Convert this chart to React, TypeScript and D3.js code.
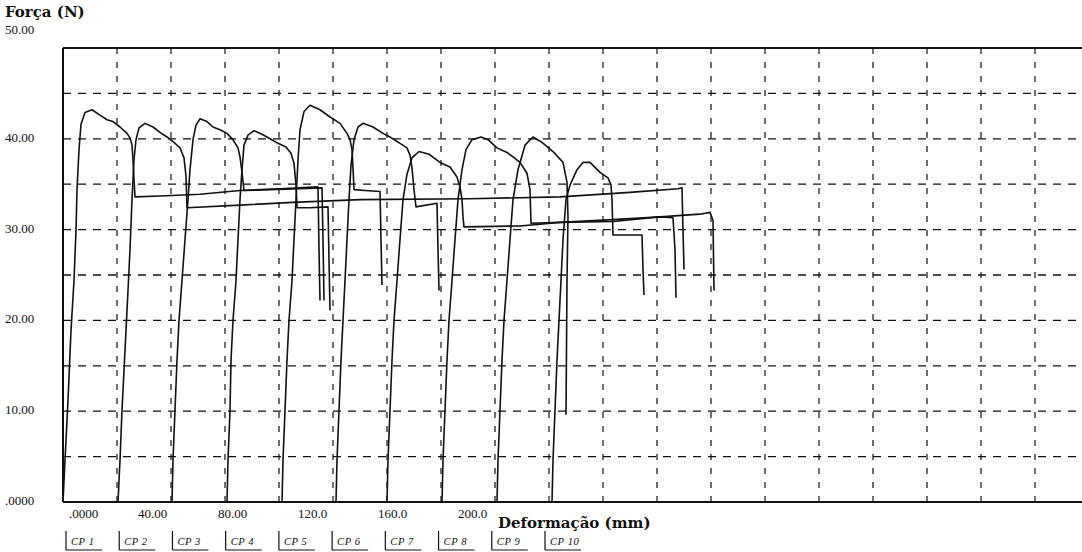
import * as d3 from 'd3';

// deformação (mm), força (N)
const cp1: [number, number][] = [[0,0],[1,4.6],[2.5,11.2],[4,18.9],[5.5,24.4],[6.5,29.9],[7,34.4],[8,38.8],[9,41.6],[11,42.9],[14.5,43.2],[18.5,42.6],[22,42.1],[25,41.9],[28.5,41.3],[32,40.6],[33.5,40.1],[34.5,39.3],[35,37.7],[35.5,35.5],[36,33.6],[48.5,33.7],[68.5,33.9],[88.5,34.3],[108.5,34.5],[127.5,34.7],[128,27.8],[128.5,22.2]];
const cp2: [number, number][] = [[27.5,0],[28.5,4.6],[29.5,10.1],[30.5,14.5],[31.5,18.9],[32.5,23.3],[33.5,27.8],[34.5,33.3],[35.5,37.7],[36.5,39.9],[38,41.2],[41,41.7],[45,41.3],[48.5,40.7],[52,40.2],[55,39.7],[58.5,39.0],[60.5,37.9],[61.5,35.9],[62,32.4],[88.5,32.7],[115,33.0],[148.5,33.3],[203.5,33.4],[248.5,33.6],[283.5,34.1],[307.5,34.5],[309.5,34.6],[310,29.9],[310.5,25.6]];
const cp3: [number, number][] = [[54.5,0],[55,4.6],[56,10.1],[57,15.6],[58,20.0],[59.5,24.4],[61,28.9],[62.5,33.3],[63.5,36.6],[65,39.9],[66.5,41.5],[68.5,42.2],[72,41.9],[75,41.3],[78.5,41.0],[82,40.6],[85,39.9],[87.5,39.0],[88.5,38.0],[89.5,36.3],[90.5,34.3],[103.5,34.4],[118.5,34.5],[129.5,34.6],[130,28.9],[130.5,22.2]];
const cp4: [number, number][] = [[82,0],[82.5,4.6],[83.5,10.1],[84,15.6],[85,20.0],[86.5,24.4],[87.5,28.9],[88.5,33.3],[89.5,36.6],[90.5,39.3],[92.5,40.4],[95.5,40.9],[99.5,40.5],[103.5,40.0],[107.5,39.5],[111.5,39.1],[114,38.4],[115.5,37.3],[116.5,34.9],[117,32.4],[123.5,32.4],[132.5,32.5],[133,26.7],[133.5,21.1]];
const cp5: [number, number][] = [[109.5,0],[110,4.6],[111,10.1],[112,15.6],[113,20.0],[114.5,24.4],[115.5,28.9],[116.5,33.3],[117.5,37.7],[118.5,41.0],[120.5,43.0],[123.5,43.7],[128.5,43.2],[133.5,42.4],[138.5,41.7],[142,40.6],[143.5,39.9],[144.5,38.8],[145,36.8],[145.5,34.4],[151,34.3],[158.5,34.2],[159,28.9],[159.5,23.9]];
const cp6: [number, number][] = [[136.5,0],[137,4.6],[138,10.1],[139,15.6],[140,20.0],[141,24.4],[142,28.9],[143,33.3],[144,37.1],[145.5,39.9],[147.5,41.3],[150,41.7],[155,41.3],[160,40.6],[163.5,40.2],[168.5,39.5],[172,39.0],[173.5,38.2],[174.5,36.8],[175.5,34.4],[176.5,32.5],[187,32.9],[187.5,27.8],[188,23.3]];
const cp7: [number, number][] = [[162,0],[162.5,4.6],[163.5,10.1],[164.5,15.6],[165.5,20.0],[167,24.4],[168.5,28.9],[170,33.3],[172,36.1],[174.5,37.9],[178,38.6],[183,38.3],[188.5,37.4],[193.5,36.9],[197,35.8],[198.5,34.7],[199.5,33.3],[200,31.4],[200.5,30.3],[228.5,30.4],[248.5,30.8],[275,30.9],[298.5,31.4],[318.5,31.7],[323.5,31.9],[325,31.0],[325.5,23.3]];
const cp8: [number, number][] = [[189.5,0],[190,4.6],[191,10.1],[192,15.6],[193,20.0],[194.5,24.4],[196,28.9],[197.5,33.3],[199.5,36.6],[201.5,38.8],[204.5,39.9],[209,40.2],[212.5,39.9],[217,39.0],[222,38.5],[225,38.0],[228.5,37.4],[232,36.2],[233.5,34.4],[234,30.7],[248.5,30.8],[275,31.1],[298.5,31.4],[305,31.3],[306,27.8],[306.5,22.5]];
const cp9: [number, number][] = [[217,0],[217.5,4.6],[218.5,10.1],[219.5,15.6],[220.5,20.0],[222,24.4],[223.5,28.9],[225,33.3],[227.5,36.6],[231,39.3],[235,40.2],[239.5,39.6],[245,38.6],[250,37.4],[252,35.2],[252.5,31.4],[252,24.4],[251.5,9.6]];
const cp10: [number, number][] = [[244.5,0],[245,4.6],[246,10.1],[247,15.6],[248,20.0],[249,24.4],[250,28.9],[251.5,33.3],[253.5,34.9],[257,36.6],[260,37.4],[263.5,37.4],[268.5,36.3],[272.5,35.7],[274,34.9],[274.5,33.3],[275,29.4],[289.5,29.4],[290,25.6],[290.5,22.8]];

const series = [cp1, cp2, cp3, cp4, cp5, cp6, cp7, cp8, cp9, cp10];
const seriesNames = ['CP 1', 'CP 2', 'CP 3', 'CP 4', 'CP 5', 'CP 6', 'CP 7', 'CP 8', 'CP 9', 'CP 10'];
const yTicks = [0, 10, 20, 30, 40, 50];
const yTickLabels = ['.0000', '10.00', '20.00', '30.00', '40.00', '50.00'];
const xTicks = [0, 40, 80, 120, 160, 200];
const xTickLabels = ['.0000', '40.00', '80.00', '120.0', '160.0', '200.0'];

const W = 1082;
const H = 552;
const left = 63, top = 48, bottom = 502;

export default function App() {
  const x = d3.scaleLinear().domain([0, 509.5]).range([left, W]);
  const y = d3.scaleLinear().domain([0, 50]).range([bottom, top]);
  const line = d3.line<[number, number]>().x(d => x(d[0])).y(d => y(d[1]));

  const hGrid = d3.range(5, 50, 5);
  const vGrid = d3.range(1, 19).map(k => k * 27);
  const legendX = d3.scaleLinear().domain([0, 9]).range([66, 545]);
  const serif = '"Liberation Serif", "Times New Roman", serif';
  const bold = '"DejaVu Serif", serif';

  return (
    <svg width={W} height={H} style={{ position: 'absolute', left: 0, top: 0, background: '#fff' }}>
      <rect width={W} height={H} fill="#fff" />
      {/* grid */}
      {hGrid.map(v => (
        <line key={'h' + v} x1={left} x2={W} y1={y(v)} y2={y(v)} stroke="#111" strokeWidth={1.3} strokeDasharray="8,7" />
      ))}
      {vGrid.map(v => (
        <line key={'v' + v} x1={x(v)} x2={x(v)} y1={top} y2={bottom} stroke="#111" strokeWidth={1.2} strokeDasharray="6,8" />
      ))}
      {/* frame */}
      <line x1={left} x2={W} y1={top} y2={top} stroke="#111" strokeWidth={2} />
      <line x1={left} x2={left} y1={top} y2={bottom} stroke="#111" strokeWidth={2} />
      <line x1={left} x2={W} y1={bottom} y2={bottom} stroke="#111" strokeWidth={2} />

      {/* curves */}
      {series.map((s, i) => (
        <path key={i} d={line(s) ?? ''} fill="none" stroke="#111" strokeWidth={1.6} strokeLinejoin="round" />
      ))}

      {/* y labels */}
      {yTicks.map((v, i) => (
        <text key={'yl' + v} x={5} y={v === 50 ? y(v) - 17 : y(v)} dominantBaseline="middle"
          fontFamily={serif} fontSize={13} fill="#111">{yTickLabels[i]}</text>
      ))}
      {/* x labels */}
      {xTicks.map((v, i) => (
        <text key={'xl' + v} x={v === 0 ? x(v) + 6 : x(v) - 5} y={515} dominantBaseline="middle"
          fontFamily={serif} fontSize={13} fill="#111">{xTickLabels[i]}</text>
      ))}

      <text x={5} y={17} fontFamily={bold} fontWeight="bold" fontSize={15} fill="#111">Força (N)</text>
      <text x={498} y={528} fontFamily={bold} fontWeight="bold" fontSize={15} fill="#111">Deformação (mm)</text>

      {/* legend */}
      {seriesNames.map((n, i) => {
        const lx = legendX(i);
        return (
          <g key={n} transform={`translate(${lx},0)`}>
            <line x1={0} x2={0} y1={531} y2={550} stroke="#111" strokeWidth={1.2} />
            <line x1={0} x2={36} y1={550} y2={550} stroke="#111" strokeWidth={1.2} />
            <text x={5} y={545} fontFamily={serif} fontStyle="italic" fontSize={10.5} fill="#111" letterSpacing={0.6}>{n}</text>
          </g>
        );
      })}
    </svg>
  );
}
